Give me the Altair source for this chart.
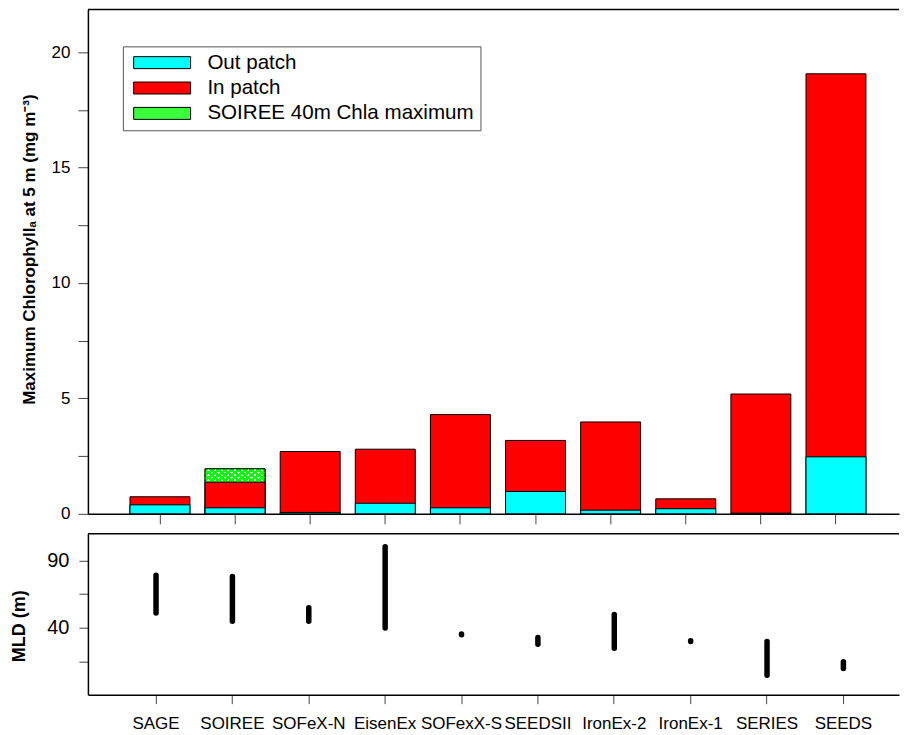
import altair as alt
import pandas as pd

# ---------------- data ----------------
experiments = ["SAGE", "SOIREE", "SOFeX-N", "EisenEx", "SOFexX-S",
               "SEEDSII", "IronEx-2", "IronEx-1", "SERIES", "SEEDS"]
out_patch = [0.39, 0.26, 0.06, 0.46, 0.26, 0.97, 0.16, 0.22, 0.03, 2.47]
in_patch = [0.74, 1.37, 2.70, 2.80, 4.30, 3.18, 3.98, 0.65, 5.19, 19.06]
soiree_40m_exp = ["SOIREE"]
soiree_40m = [1.95]
mld_min = [51, 45, 45, 40, 35, 28, 25, 30, 5, 10]
mld_max = [79, 78, 55, 100, 35.6, 33, 50, 30.5, 30, 15]

series_names = ["Out patch", "In patch", "SOIREE 40m Chla maximum"]
series_colors = ["#00ffff", "#ff0000", "#3cff3c"]

top_ticks = [0, 2.5, 5, 7.5, 10, 12.5, 15, 17.5, 20]
mld_ticks = [15, 40, 65, 90]

FONT = "Liberation Sans"
W = 812

# ---------------- tables ----------------
green_df = pd.DataFrame({"experiment": soiree_40m_exp, "series": series_names[2], "value": soiree_40m})
rc_df = pd.concat([
    pd.DataFrame({"experiment": experiments, "series": series_names[1], "value": in_patch}),
    pd.DataFrame({"experiment": experiments, "series": series_names[0], "value": out_patch}),
], ignore_index=True)
mld_df = pd.DataFrame({"experiment": experiments, "lo": mld_min, "hi": mld_max})
one_row = alt.Data(values=[{"k": 1}])

# ---------------- top panel ----------------
color_scale = alt.Scale(domain=series_names, range=series_colors)

x_top = alt.X("experiment:N",
              scale=alt.Scale(domain=experiments, paddingInner=0.202, paddingOuter=0.5, align=0.56),
              sort=experiments,
              axis=alt.Axis(labels=False, title=None, tickSize=10, tickColor="#444",
                            tickWidth=1, domainColor="black", domainWidth=1.5))
y_top = alt.Y("value:Q", stack=None,
              scale=alt.Scale(domain=[0, 21.85], nice=False, zero=True),
              axis=alt.Axis(values=top_ticks,
                            labelExpr="datum.value % 5 == 0 ? datum.label : ''",
                            title="Maximum Chlorophyllₐ at 5 m (mg m⁻³)",
                            titleFont=FONT, titleFontSize=17, titleFontWeight="bold",
                            titleColor="black", titleX=-58, titleY=240, titleBaseline="middle",
                            titleAngle=270, titleAlign="center",
                            labelFont=FONT, labelFontSize=17, labelColor="black",
                            labelPadding=8, tickSize=10, tickColor="#444",
                            domainColor="black", domainWidth=1.5, grid=False))
color_enc = alt.Color("series:N", scale=color_scale,
                      legend=alt.Legend(title=None, orient="none", legendX=35, legendY=37,
                                        symbolType="M-4.75,-1H4.75V1H-4.75Z", symbolSize=144,
                                        symbolStrokeColor="black", symbolStrokeWidth=1,
                                        symbolOffset=23, labelOffset=35,
                                        labelFont=FONT, labelFontSize=20.6, labelColor="black",
                                        labelLimit=500, fillColor="white", strokeColor="#555",
                                        padding=6, rowPadding=4.4))


def stripes(x1, y1, x2, y2, n=18, duty=0.55):
    stops = []
    for k in range(n):
        a, b, c = k / n, (k + duty) / n, (k + 1) / n
        stops += [alt.GradientStop(offset=a, color="#00ff00"),
                  alt.GradientStop(offset=b, color="#00ff00"),
                  alt.GradientStop(offset=b, color="rgba(0,255,0,0)"),
                  alt.GradientStop(offset=c, color="rgba(0,255,0,0)")]
    return alt.LinearGradient(gradient="linear", stops=stops, x1=x1, y1=y1, x2=x2, y2=y2)


green_layer = alt.Chart(green_df).mark_bar(stroke="black", strokeWidth=1).encode(
    x=x_top, y=y_top, color=color_enc)
white_cover = alt.Chart(green_df).mark_bar(fill="white").encode(x=x_top, y=y_top)
stripe_a = alt.Chart(green_df).mark_bar(fill=stripes(0, 0, 1, 1)).encode(x=x_top, y=y_top)
stripe_b = alt.Chart(green_df).mark_bar(fill=stripes(1, 0, 0, 1), stroke="black",
                                        strokeWidth=1).encode(x=x_top, y=y_top)
rc_layer = alt.Chart(rc_df).mark_bar(stroke="black", strokeWidth=1).encode(
    x=x_top, y=y_top, color=color_enc)
top_line = alt.Chart(one_row).mark_rule(color="black", strokeWidth=1.5).encode(
    x=alt.value(0), x2=alt.value(W), y=alt.value(0))

top = alt.layer(green_layer, white_cover, stripe_a, stripe_b, rc_layer, top_line).properties(
    width=W, height=505)

# ---------------- bottom panel ----------------
x_bot = alt.X("experiment:N",
              scale=alt.Scale(domain=experiments, paddingInner=0.2, paddingOuter=0.41, align=0.6),
              sort=experiments,
              axis=alt.Axis(title=None, labelAngle=0, labelFont=FONT, labelFontSize=17,
                            labelColor="black", labelPadding=12, tickSize=9,
                            tickColor="#444", domainColor="black", domainWidth=1.5))
y_bot = alt.Y("lo:Q", scale=alt.Scale(domain=[-9.3, 109.6], nice=False, zero=False),
              axis=alt.Axis(values=mld_ticks,
                            labelExpr="datum.value == 40 || datum.value == 90 ? datum.label : ''",
                            title="MLD (m)", titleFont=FONT, titleFontSize=18,
                            titleFontWeight="bold", titleColor="black",
                            titleX=-68, titleY=92, titleBaseline="middle",
                            titleAngle=270, titleAlign="center",
                            labelFont=FONT, labelFontSize=20, labelColor="black",
                            labelPadding=10, tickSize=9, tickColor="#444",
                            domainColor="black", domainWidth=1.5, grid=False))
mld_rules = alt.Chart(mld_df).mark_rule(color="black", strokeWidth=5.5, strokeCap="round").encode(
    x=x_bot, y=y_bot, y2="hi:Q")
bot_line = alt.Chart(one_row).mark_rule(color="black", strokeWidth=1.5).encode(
    x=alt.value(0), x2=alt.value(W), y=alt.value(0))

bottom = alt.layer(mld_rules, bot_line).properties(width=W, height=161)

chart = alt.vconcat(top, bottom, spacing=8).properties(
    padding={"left": 3, "top": 0, "right": 0, "bottom": 0},
    background="white",
).configure_view(strokeWidth=0)

chart.save("out.html", embed_options={"renderer": "svg", "actions": False})
